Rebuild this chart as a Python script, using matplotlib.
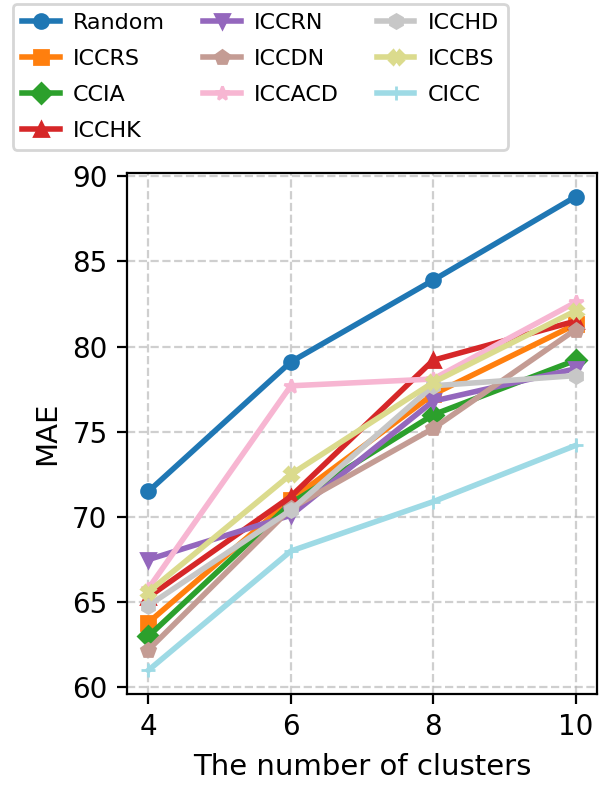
import matplotlib
matplotlib.use("Agg")
import matplotlib.pyplot as plt

clusters = [4, 6, 8, 10]

random_mae = [71.5, 79.1, 83.9, 88.8]
iccrs_mae = [63.8, 71.0, 77.2, 81.3]
ccia_mae = [63.0, 70.8, 76.0, 79.2]
icchk_mae = [65.3, 71.2, 79.2, 81.5]
iccrn_mae = [67.5, 70.1, 76.8, 78.7]
iccdn_mae = [62.2, 70.5, 75.2, 81.0]
iccacd_mae = [65.8, 77.7, 78.1, 82.6]
icchd_mae = [64.8, 70.4, 77.7, 78.3]
iccbs_mae = [65.6, 72.5, 77.9, 82.1]
cicc_mae = [61.0, 68.0, 70.9, 74.2]

labels = ["Random", "ICCRS", "CCIA", "ICCHK", "ICCRN",
          "ICCDN", "ICCACD", "ICCHD", "ICCBS", "CICC"]
series = [random_mae, iccrs_mae, ccia_mae, icchk_mae, iccrn_mae,
          iccdn_mae, iccacd_mae, icchd_mae, iccbs_mae, cicc_mae]
markers = ["o", "s", "D", "^", "v", "p", "*", "h", "X", "+"]
colors = ["#1f77b4", "#ff7f0e", "#2ca02c", "#d62728", "#9467bd",
          "#c49c94", "#f7b6d2", "#c7c7c7", "#dbdb8d", "#9edae5"]

plt.rcParams["font.size"] = 10.5

fig = plt.figure(figsize=(3.005, 3.925), dpi=200)
ax = fig.add_axes([0.2113, 0.1159, 0.9933 - 0.2113, 0.7796 - 0.1159])

for vals, lab, mk, col in zip(series, labels, markers, colors):
    ax.plot(clusters, vals, marker=mk, color=col, label=lab,
            linewidth=2, markersize=5)

ax.set_xticks(clusters)
ax.set_yticks([60, 65, 70, 75, 80, 85, 90])
ax.tick_params(labelsize=10)
ax.grid(True, linestyle="--", alpha=0.6)
ax.set_xlabel("The number of clusters")
ax.set_ylabel("MAE")

fig.legend(loc="upper left", bbox_to_anchor=(0.0216, 0.995), ncol=3,
           fontsize=8.0, borderaxespad=0, labelspacing=0.72,
           handlelength=1.7, handletextpad=0.6, columnspacing=1.7)

fig.savefig("out.png", dpi=200)
